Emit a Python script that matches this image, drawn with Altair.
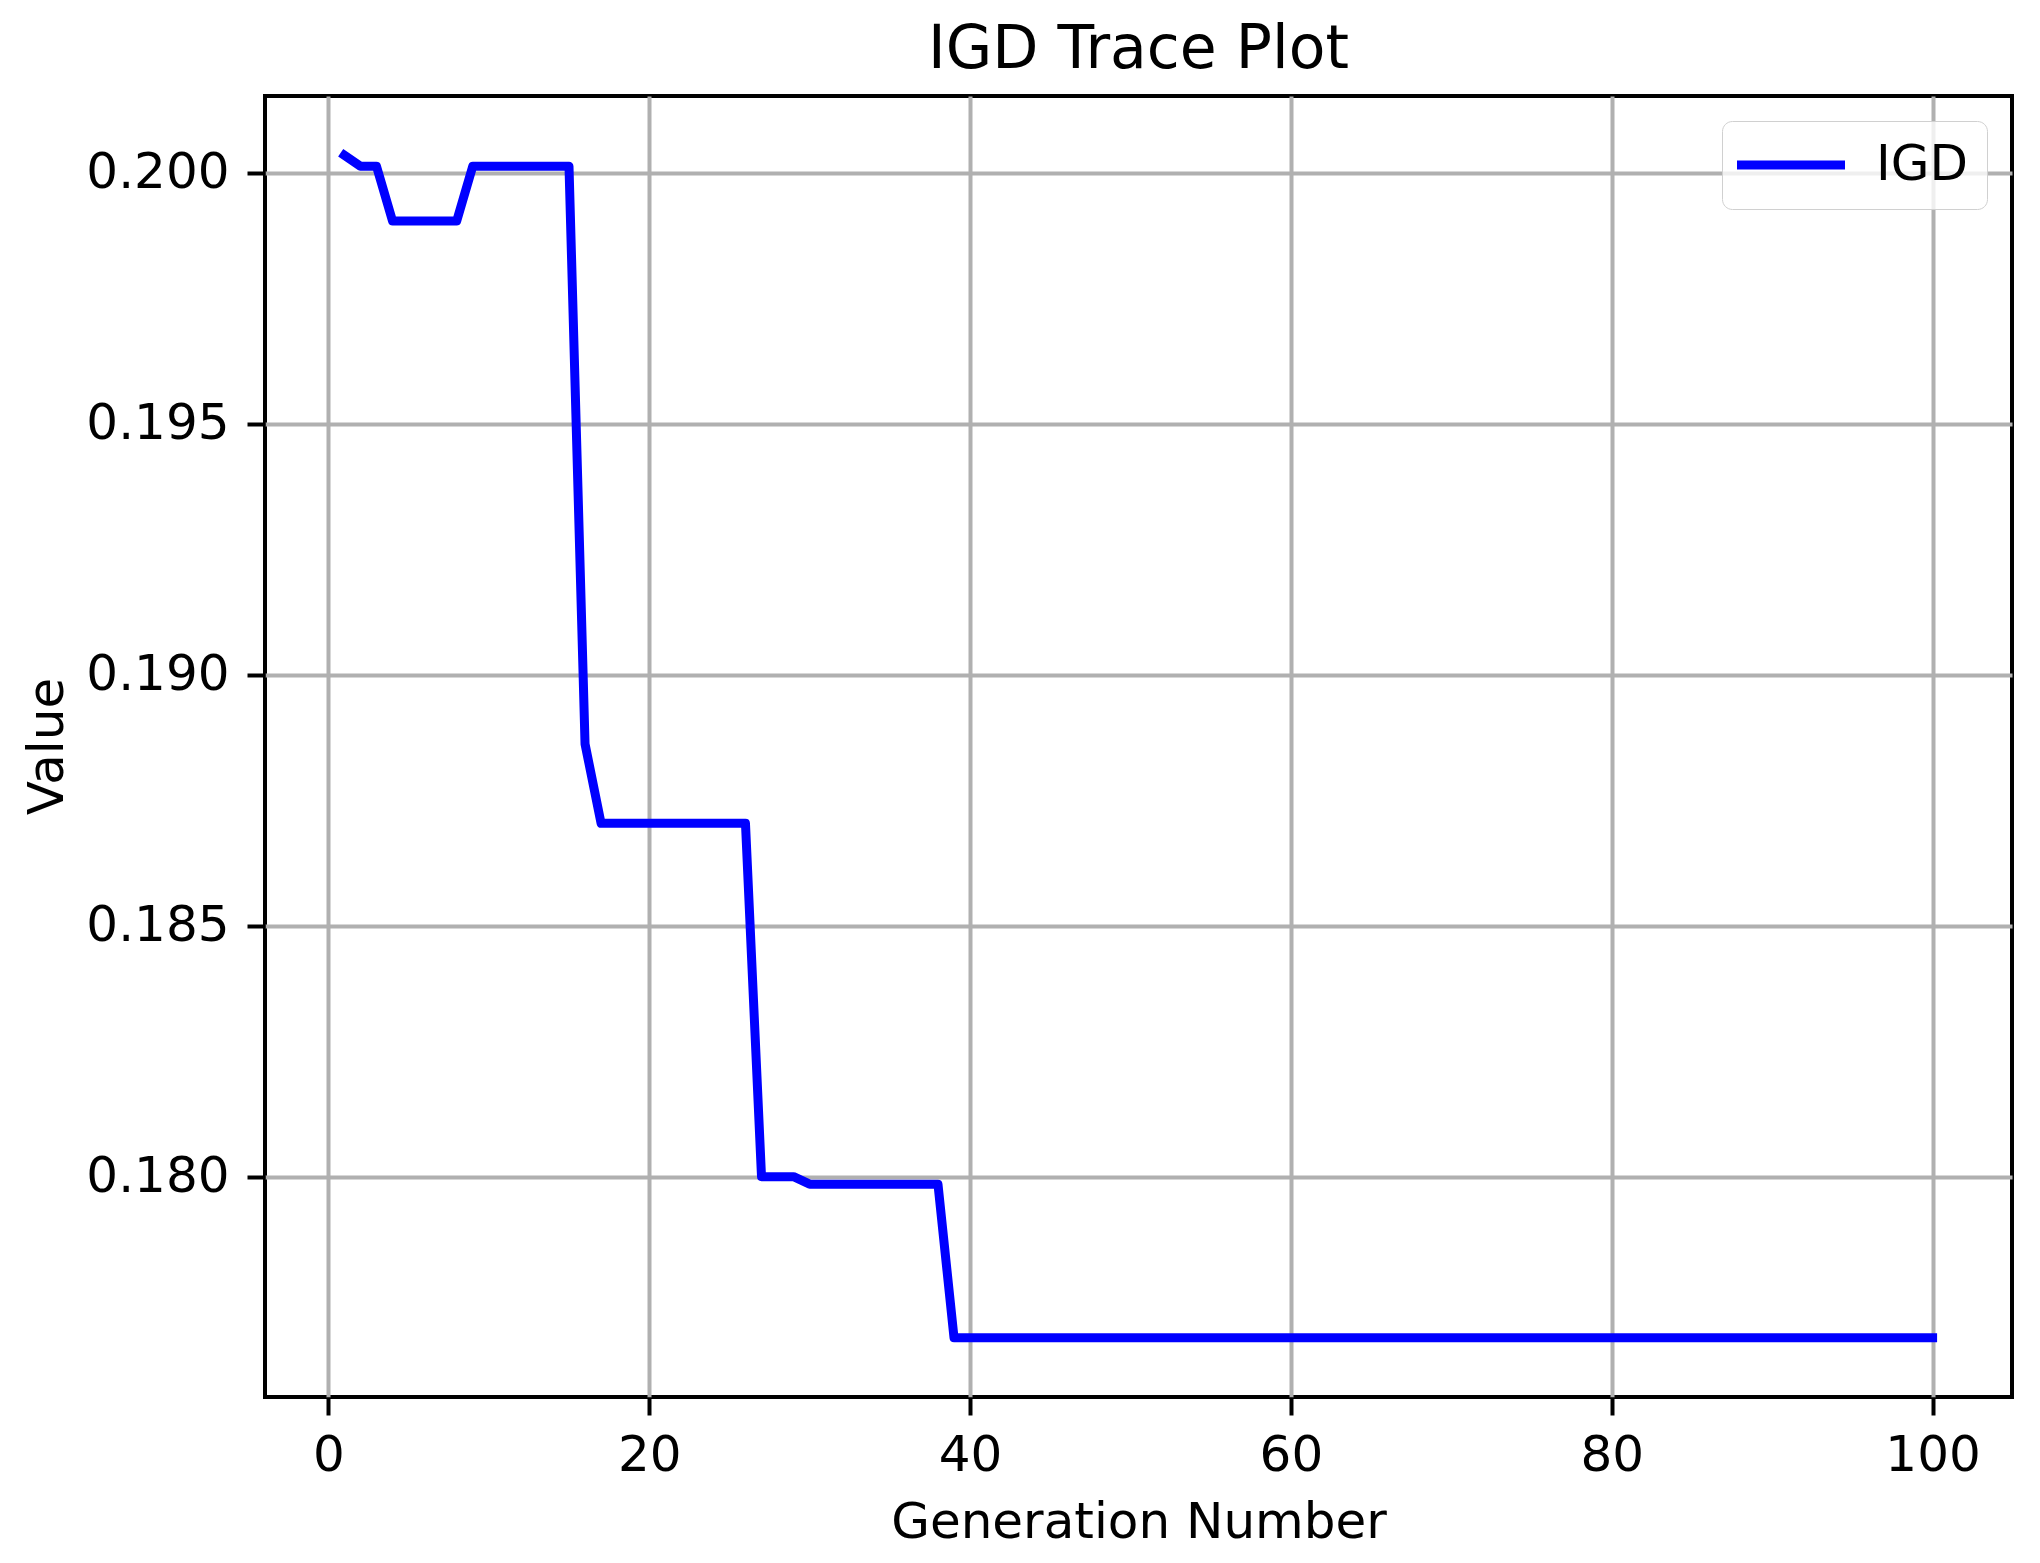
import altair as alt
import pandas as pd

# Data
generations = list(range(1, 101))
igd_values = (
    [0.20035, 0.20013, 0.20013]
    + [0.19904] * 5          # 4..8
    + [0.20013] * 7          # 9..15
    + [0.18862]              # 16
    + [0.18704] * 10         # 17..26
    + [0.18000] * 3          # 27..29
    + [0.17985] * 9          # 30..38
    + [0.17679] * 62         # 39..100
)
series_name = ["IGD"] * len(generations)

x_ticks = [0, 20, 40, 60, 80, 100]
y_ticks = [0.180, 0.185, 0.190, 0.195, 0.200]

df = pd.DataFrame({"gen": generations, "value": igd_values, "series": series_name})

FONT = "DejaVu Sans"
FS = 50

line = alt.Chart(df).mark_line(
    strokeWidth=9, strokeJoin="round", strokeCap="square"
).encode(
    x=alt.X(
        "gen:Q",
        scale=alt.Scale(domain=[-3.95, 104.95], nice=False, zero=False),
        axis=alt.Axis(
            values=x_ticks, title="Generation Number", format="d",
            titleY=140, titleBaseline="alphabetic",
            labelPadding=15, labelBaseline="top",
        ),
    ),
    y=alt.Y(
        "value:Q",
        scale=alt.Scale(domain=[0.17561, 0.20153], nice=False, zero=False),
        axis=alt.Axis(
            values=y_ticks, title="Value", format=".3f",
            titleX=-203, titleY=650, titleBaseline="alphabetic", titleAngle=270,
            labelPadding=18,
        ),
    ),
    color=alt.Color(
        "series:N",
        scale=alt.Scale(domain=["IGD"], range=["#0000ff"]),
        legend=alt.Legend(
            title=None, orient="none", legendX=1457, legendY=25,
            symbolType="M-3,0H3", symbolSize=1296, symbolStrokeWidth=9,
            symbolOffset=25,
            labelFontSize=FS, labelFont=FONT, labelColor="#000000",
            labelOffset=60, padding=19,
            strokeColor="#d0d0d0", fillColor="rgba(255,255,255,0.8)",
            cornerRadius=10,
        ),
    ),
)

chart = line.properties(
    width=1747,
    height=1301,
    background="white",
    title=alt.TitleParams(
        "IGD Trace Plot", fontSize=60, font=FONT, fontWeight="normal",
        color="#000000", anchor="middle", baseline="bottom", offset=-45,
    ),
    autosize=alt.AutoSizeParams(type="none"),
    padding={"left": 257, "top": 88, "right": 10, "bottom": 160},
).configure_view(
    stroke="#000000", strokeWidth=4
).configure_axis(
    domain=False,
    grid=True, gridColor="#b0b0b0", gridWidth=4,
    ticks=True, tickColor="#000000", tickWidth=4, tickSize=18,
    labelFont=FONT, labelFontSize=FS, labelColor="#000000",
    titleFont=FONT, titleFontSize=FS, titleColor="#000000", titleFontWeight="normal",
)

chart.save("out.html", embed_options={"renderer": "svg", "actions": False})
